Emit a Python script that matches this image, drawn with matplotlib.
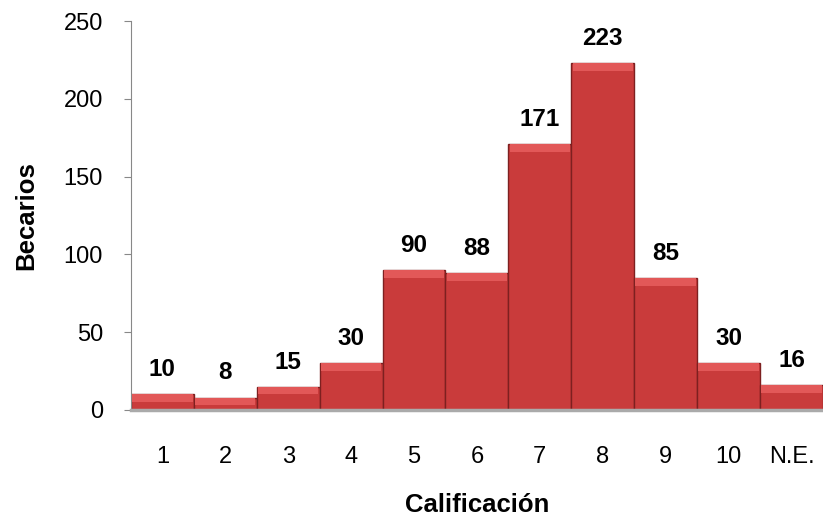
import matplotlib.pyplot as plt

plt.rcParams['font.family'] = ['Liberation Sans', 'DejaVu Sans']

categorias = ['1', '2', '3', '4', '5', '6', '7', '8', '9', '10', 'N.E.']
becarios = [10, 8, 15, 30, 90, 88, 171, 223, 85, 30, 16]

x = list(range(len(categorias)))

fig = plt.figure(figsize=(8.23, 5.17), dpi=100)
ax = fig.add_axes([0.159, 0.207, 0.841, 0.752])

# cuerpo de las barras
ax.bar(x, becarios, width=1.0, color='#c93b3b', edgecolor='#7d2020', linewidth=1.0, zorder=2)
# bisel superior (más claro)
bisel = 5
ax.bar(x, [bisel] * len(x), bottom=[v - bisel for v in becarios], width=0.96,
       color='#e25858', edgecolor='none', zorder=3)

for xi, v in zip(x, becarios):
    ax.annotate(str(v), (xi, v), xytext=(0, 13), textcoords='offset points',
                ha='center', va='baseline', fontsize=17.5, fontweight='bold')

ax.set_xlim(-0.5, len(x) - 0.5)
ax.set_ylim(0, 250)
ax.set_yticks([0, 50, 100, 150, 200, 250])
ax.set_xticks(x)
ax.set_xticklabels(categorias)
ax.tick_params(axis='y', labelsize=17, length=5, color='#888888', pad=15)
ax.tick_params(axis='x', labelsize=17, length=0, pad=26)

for s in ['top', 'right']:
    ax.spines[s].set_visible(False)
ax.spines['left'].set_color('#888888')
ax.spines['bottom'].set_color('#aaaaaa')
ax.spines['bottom'].set_linewidth(2.5)

ax.set_xlabel('Calificación', fontsize=18.5, fontweight='bold', labelpad=18)
ax.set_ylabel('Becarios', fontsize=18.5, fontweight='bold', labelpad=18)

fig.savefig('out.png', dpi=100)
